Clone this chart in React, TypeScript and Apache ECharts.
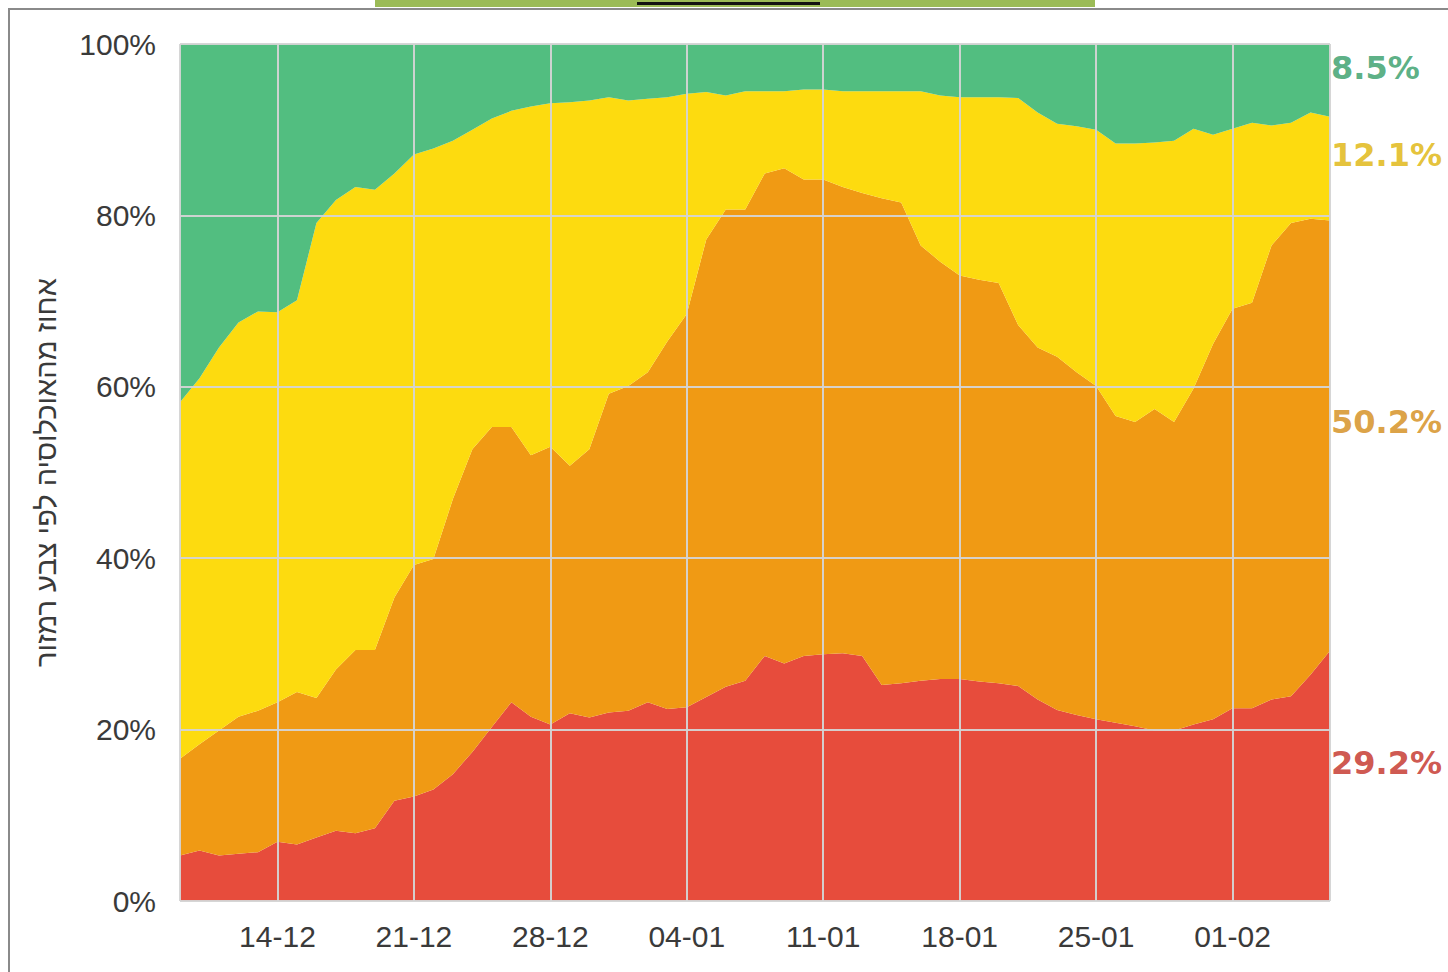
import React, { useEffect, useRef } from "react";
import * as echarts from "echarts";

const dates = [
  "09-12","10-12","11-12","12-12","13-12","14-12","15-12","16-12","17-12","18-12",
  "19-12","20-12","21-12","22-12","23-12","24-12","25-12","26-12","27-12","28-12",
  "29-12","30-12","31-12","01-01","02-01","03-01","04-01","05-01","06-01","07-01",
  "08-01","09-01","10-01","11-01","12-01","13-01","14-01","15-01","16-01","17-01",
  "18-01","19-01","20-01","21-01","22-01","23-01","24-01","25-01","26-01","27-01",
  "28-01","29-01","30-01","31-01","01-02","02-02","03-02","04-02","05-02","06-02",
];

const red = [
  5.3, 5.9, 5.3, 5.5, 5.7, 6.9, 6.6, 7.4, 8.2, 7.9,
  8.5, 11.7, 12.2, 13.0, 14.8, 17.4, 20.3, 23.2, 21.5, 20.6,
  21.9, 21.4, 22.0, 22.2, 23.2, 22.4, 22.6, 23.8, 25.0, 25.7,
  28.6, 27.7, 28.6, 28.8, 28.9, 28.6, 25.2, 25.4, 25.7, 25.9,
  25.9, 25.6, 25.4, 25.1, 23.5, 22.3, 21.7, 21.2, 20.8, 20.4,
  19.9, 19.9, 20.6, 21.2, 22.5, 22.5, 23.5, 23.9, 26.4, 29.2,
];
const orange = [
  11.3, 12.4, 14.6, 16.0, 16.5, 16.3, 17.8, 16.3, 18.8, 21.4,
  20.8, 23.7, 27.0, 26.9, 32.1, 35.3, 35.0, 32.1, 30.5, 32.4,
  28.9, 31.3, 37.2, 37.9, 38.5, 42.9, 45.9, 53.4, 55.7, 55.0,
  56.3, 57.8, 55.6, 55.4, 54.4, 54.0, 56.8, 56.1, 50.8, 48.7,
  47.1, 46.9, 46.7, 42.1, 41.1, 41.2, 40.0, 38.9, 35.8, 35.5,
  37.5, 36.0, 39.2, 43.8, 46.6, 47.3, 53.0, 55.2, 53.2, 50.2,
];
const yellow = [
  41.6, 42.7, 44.7, 46.0, 46.6, 45.5, 45.7, 55.4, 54.8, 54.0,
  53.7, 49.5, 47.9, 47.9, 41.8, 37.3, 36.0, 36.9, 40.7, 40.1,
  42.4, 40.7, 34.6, 33.3, 31.9, 28.5, 25.7, 17.2, 13.3, 13.8,
  9.6, 9.0, 10.5, 10.5, 11.2, 11.9, 12.5, 13.0, 18.0, 19.4,
  20.8, 21.3, 21.7, 26.5, 27.4, 27.2, 28.7, 29.9, 31.8, 32.5,
  31.1, 32.8, 30.3, 24.4, 21.0, 21.0, 14.0, 11.7, 12.4, 12.1,
];
const green = [
  41.8, 39.0, 35.4, 32.5, 31.2, 31.3, 29.9, 20.9, 18.2, 16.7,
  17.0, 15.1, 12.9, 12.2, 11.3, 10.0, 8.7, 7.8, 7.3, 6.9,
  6.8, 6.6, 6.2, 6.6, 6.4, 6.2, 5.8, 5.6, 6.0, 5.5,
  5.5, 5.5, 5.3, 5.3, 5.5, 5.5, 5.5, 5.5, 5.5, 6.0,
  6.2, 6.2, 6.2, 6.3, 8.0, 9.3, 9.6, 10.0, 11.6, 11.6,
  11.5, 11.3, 9.9, 10.6, 9.9, 9.2, 9.5, 9.2, 8.0, 8.5,
];

const yTicks = [0, 20, 40, 60, 80, 100];
const yAxisTitle = "אחוז מהאוכלוסיה לפי צבע רמזור";

const FILL = { red: "#e74c3c", orange: "#f09a14", yellow: "#fddb0f", green: "#52be80" };
const TEXT = { red: "#c9433a", orange: "#d8962e", yellow: "#e2bb22", green: "#47a676" };

const weekly = (i: number) => (i - 5) % 7 === 0 && i >= 5;

export default function App() {
  const ref = useRef<HTMLDivElement>(null);
  useEffect(() => {
    if (!ref.current) return;
    const chart = echarts.init(ref.current, undefined, { renderer: "svg" });
    const last = dates.length - 1;
    const mkSeries = (name: string, data: number[], color: string) => ({
      name,
      type: "line",
      stack: "total",
      data,
      symbol: "none",
      lineStyle: { width: 0 },
      areaStyle: { color, opacity: 1 },
      itemStyle: { color },
      z: 2,
    });
    const labelFont = "'Liberation Sans', Arial, sans-serif";
    const endLabel = (text: string, color: string, top: number) => ({
      type: "text",
      left: 1331,
      top,
      style: {
        text,
        fill: color,
        font: "bold 32px 'DejaVu Sans', sans-serif",
        opacity: 0.9,
      },
    });
    chart.setOption({
      animation: false,
      backgroundColor: "#ffffff",
      grid: { left: 180, right: 118, top: 44, bottom: 71, containLabel: false },
      xAxis: {
        type: "category",
        data: dates,
        boundaryGap: false,
        z: 5,
        axisLine: { show: false },
        axisTick: { show: false },
        axisLabel: {
          interval: (i: number) => weekly(i),
          margin: 20,
          fontSize: 30,
          fontFamily: labelFont,
          color: "#3a3a3a",
        },
        splitLine: {
          show: true,
          interval: (i: number) => weekly(i) || i === 0 || i === last,
          lineStyle: { color: "rgba(212,212,212,0.95)", width: 2 },
        },
      },
      yAxis: {
        type: "value",
        min: yTicks[0],
        max: yTicks[yTicks.length - 1],
        interval: 20,
        z: 5,
        name: yAxisTitle,
        nameLocation: "middle",
        nameRotate: 90,
        nameGap: 120,
        nameTextStyle: { fontSize: 29, fontFamily: labelFont, color: "#3a3a3a" },
        axisLine: { show: false },
        axisTick: { show: false },
        axisLabel: {
          formatter: "{value}%",
          margin: 24,
          fontSize: 30,
          fontFamily: labelFont,
          color: "#3a3a3a",
        },
        splitLine: { show: true, lineStyle: { color: "rgba(212,212,212,0.95)", width: 2 } },
      },
      series: [
        mkSeries("אדום", red, FILL.red),
        mkSeries("כתום", orange, FILL.orange),
        mkSeries("צהוב", yellow, FILL.yellow),
        mkSeries("ירוק", green, FILL.green),
      ],
      graphic: [
        { type: "rect", shape: { x: 375, y: 0, width: 720, height: 7 }, style: { fill: "#9bbb57" }, z: 10 },
        { type: "rect", shape: { x: 637, y: 2, width: 183, height: 3 }, style: { fill: "#111111" }, z: 11 },
        { type: "line", shape: { x1: 8, y1: 9, x2: 1448, y2: 9 }, style: { stroke: "#8a8a8a", lineWidth: 2 }, z: 10 },
        { type: "line", shape: { x1: 9, y1: 9, x2: 9, y2: 972 }, style: { stroke: "#8a8a8a", lineWidth: 2 }, z: 10 },
        endLabel(`${green[last]}%`, TEXT.green, 52),
        endLabel(`${yellow[last]}%`, TEXT.yellow, 139),
        endLabel(`${orange[last]}%`, TEXT.orange, 406),
        endLabel(`${red[last]}%`, TEXT.red, 747),
      ],
    });
    return () => chart.dispose();
  }, []);
  return (
    <div
      ref={ref}
      style={{ position: "fixed", left: 0, top: 0, width: 1448, height: 972, background: "#fff" }}
    />
  );
}
